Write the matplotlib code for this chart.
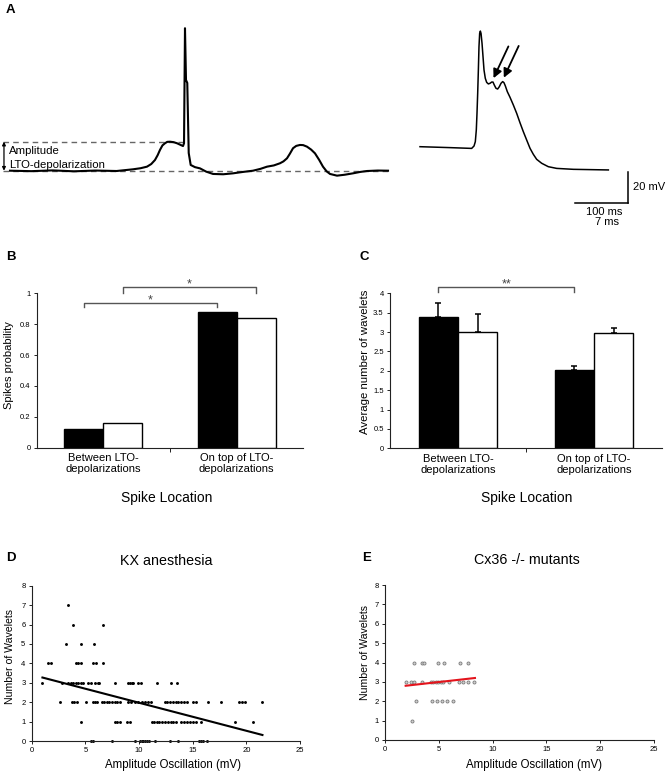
import matplotlib
matplotlib.use('Agg')
import matplotlib.pyplot as plt

plt.rcParams['font.family'] = ['Liberation Sans', 'DejaVu Sans']

W, H = 670, 774

# ---------------- Panel A: traces (time in ms, voltage in mV relative to baseline)
trace1_t = [0, 40, 80, 120, 160, 200, 230.8, 245, 257, 265, 272, 277, 281.4, 286, 290.8, 295,
            300.2, 307, 313.3, 319, 324.6, 326.5, 328.3, 330.2, 332.6,
            335.3, 339, 347, 356.5, 368, 380.9, 400, 418.4, 437, 455.9, 470, 482.2, 495, 506.6,
            513, 519.7, 525, 531, 537, 544.1, 550, 557.2, 565, 572.2, 580, 587.2, 594, 600.4,
            613.5, 628, 643.5, 657, 669.8, 690, 709.2]
trace1_v = [0, -0.3, 0.2, -0.4, 0.1, -0.2, 0.9, 1.6, 2.6, 4.3, 6.9, 10.0, 13.4, 16.3, 17.7, 18.6,
            18.7, 18.4, 17.7, 16.8, 15.9, 17.7, 91.9, 58.5, 56.6,
            11.4, 3.7, 2.3, 1.5, -0.6, -2.1, -2.3, -1.7, -0.8, 0, 1.2, 2.6, 3.4, 4.8,
            6.0, 8.0, 10.9, 14.5, 16.0, 16.6, 16.5, 15.5, 13.6, 11.2, 7.0, 2.6, -0.4, -2.1,
            -3.2, -2.6, -1.7, -0.8, -0.2, 0.1, 0]
lto_baseline = 0.0
lto_peak = 18.7

trace2_t = [0, 3.94, 6.78, 7.09, 7.26, 7.39, 7.48, 7.57, 7.66, 7.74, 7.83, 7.92, 8.01, 8.14,
            8.27, 8.40, 8.57, 8.75, 8.97, 9.19, 9.41, 9.58, 9.75, 9.97, 10.19, 10.41, 10.63,
            10.85, 11.02, 11.2, 11.46, 11.81, 12.25, 12.69, 13.12, 13.56, 14.0, 14.44, 14.87,
            15.31, 15.97, 16.84, 17.94, 20.12, 24.72]
trace2_v = [0, -0.6, -1.1, 0.45, 3.25, 10.8, 21.5, 34.4, 49.5, 64.5, 73.1, 74.6, 73.1, 66.7,
            58.1, 49.5, 44.1, 41.5, 40.5, 40.9, 41.7, 41.7, 39.8, 37.7, 37.2, 38.7, 40.9,
            42.0, 41.3, 39.2, 35.5, 31.9, 26.9, 21.5, 15.5, 9.7, 4.3, -1.05, -4.9,
            -8.15, -10.7, -12.9, -14.0, -14.6, -15.0]
wavelet_t = [9.5, 10.85]
wavelet_v = [41.7, 42.0]
scale_mv = 20
scale_ms = 7

# ---------------- Panels B and C
categories = ['Between LTO-\ndepolarizations', 'On top of LTO-\ndepolarizations']
spike_prob_black = [0.121, 0.881]
spike_prob_white = [0.162, 0.838]
wavelets_black = [3.40, 2.02]
wavelets_white = [3.01, 2.97]
wavelets_black_err = [0.34, 0.10]
wavelets_white_err = [0.45, 0.13]
b_ticks = [0, 0.2, 0.4, 0.6, 0.8, 1]
b_ticklabels = ['0', '0.2', '0.4', '0.6', '0.8', '1']
c_ticks = [0, 0.5, 1, 1.5, 2, 2.5, 3, 3.5, 4]
c_ticklabels = ['0', '0.5', '1', '1.5', '2', '2.5', '3', '3.5', '4']

# ---------------- Panel D (KX anesthesia)
d_levels = {
    7: [3.35],
    6: [3.88, 6.67],
    5: [3.17, 4.57, 5.83],
    4: [1.55, 1.77, 4.15, 4.35, 4.55, 5.74, 5.96, 6.67],
    3: [0.93, 2.85, 3.41, 3.63, 3.88, 4.1, 4.34, 4.6, 4.8, 5.28, 5.5, 5.9, 6.15, 6.3, 7.76,
        9.0, 9.15, 9.3, 9.45, 9.95, 10.2, 11.7, 12.95, 13.57],
    2: [2.64, 3.73, 3.94, 4.19, 5.06, 5.68, 5.9, 6.06, 6.52, 6.74, 6.99, 7.2, 7.46, 7.76,
        7.98, 8.23, 9.0, 9.25, 9.63, 9.94, 10.25, 10.56, 10.87, 11.12, 12.42, 12.65, 12.9,
        13.15, 13.4, 13.65, 13.9, 14.15, 14.45, 15.05, 15.35, 16.45, 17.65, 19.3, 19.6,
        19.9, 21.45],
    1: [4.57, 7.76, 7.98, 8.23, 8.85, 9.16, 11.18, 11.4, 11.65, 11.89, 12.12, 12.45, 12.73,
        12.95, 13.2, 13.42, 13.95, 14.2, 14.45, 14.75, 15.05, 15.35, 15.75, 18.95, 20.65],
    0: [5.55, 5.7, 7.45, 9.6, 10.1, 10.25, 10.4, 10.55, 10.7, 10.95, 11.5, 12.9, 13.6,
        15.6, 15.8, 16.0, 16.35],
}
d_x = [x for lvl, xs in d_levels.items() for x in xs]
d_y = [lvl for lvl, xs in d_levels.items() for x in xs]
d_fit_x = [1.0, 21.5]
d_fit_y = [3.27, 0.31]

# ---------------- Panel E (Cx36 -/- mutants)
e_levels = {
    4: [2.72, 3.41, 3.6, 4.96, 5.5, 7.0, 7.74],
    3: [1.92, 2.39, 2.72, 3.41, 4.27, 4.49, 4.71, 4.96, 5.2, 5.42, 5.95, 6.9, 7.28, 7.74, 8.3],
    2: [2.85, 4.34, 4.8, 5.27, 5.73, 6.29],
    1: [2.54],
}
e_x = [x for lvl, xs in e_levels.items() for x in xs]
e_y = [lvl for lvl, xs in e_levels.items() for x in xs]
e_fit_x = [1.92, 8.36]
e_fit_y = [2.8, 3.2]

scatter_xticks = [0, 5, 10, 15, 20, 25]
scatter_yticks = [0, 1, 2, 3, 4, 5, 6, 7, 8]

# =====================================================================
fig = plt.figure(figsize=(W / 100, H / 100), dpi=100)


def px_axes(x0, y0, x1, y1):
    return fig.add_axes([x0 / W, 1 - y1 / H, (x1 - x0) / W, (y1 - y0) / H])


def fxy(x, y):
    return (x / W, 1 - y / H)


SP = '#222222'

# ---- Panel A left trace
axA1 = px_axes(0, 20, 400, 190)
axA1.set_xlim(-18.76, 731.7)
axA1.set_ylim(-12.45, 97.2)
axA1.axis('off')
axA1.plot([-13, 713], [lto_baseline, lto_baseline], color='#666666', lw=1.0, ls=(0, (4, 3)))
axA1.plot([-13, 324.6], [lto_peak, lto_peak], color='#666666', lw=1.0, ls=(0, (4, 3)))
axA1.plot(trace1_t, trace1_v, color='k', lw=1.5, solid_joinstyle='round')
axA1.annotate('', xy=(-11.3, lto_baseline), xytext=(-11.3, lto_peak),
              arrowprops=dict(arrowstyle='<|-|>', color='k', lw=0.9, mutation_scale=5,
                              shrinkA=0, shrinkB=0))
axA1.text(-1.3, 12.9, 'Amplitude', fontsize=8.2, ha='left', va='center')
axA1.text(-1.3, 3.7, 'LTO-depolarization', fontsize=8.2, ha='left', va='center')

# ---- Panel A right trace
axA2 = px_axes(400, 20, 670, 250)
axA2.set_xlim(-2.625, 32.81)
axA2.set_ylim(-66.65, 81.74)
axA2.axis('off')
axA2.plot(trace2_t, trace2_v, color='k', lw=1.1, solid_joinstyle='round')
for wt, wv in zip(wavelet_t, wavelet_v):
    axA2.annotate('', xy=(wt + 0.15, wv + 2.5), xytext=(wt + 2.1, wv + 23.0),
                  arrowprops=dict(arrowstyle='-|>', color='k', lw=1.3, mutation_scale=13,
                                  shrinkA=0, shrinkB=0))
sb_x, sb_y = 27.34, -36.1
axA2.plot([sb_x, sb_x], [sb_y, sb_y + scale_mv], color='k', lw=1.1)
axA2.plot([sb_x - scale_ms, sb_x], [sb_y, sb_y], color='k', lw=1.1)
axA2.text(27.95, -25.8, '20 mV', fontsize=8, ha='left', va='center')
axA2.text(24.15, -41.9, '100 ms', fontsize=8, ha='center', va='center')
axA2.text(24.5, -48.4, '7 ms', fontsize=8, ha='center', va='center')


def style_bar_axes(ax):
    for s in ['top', 'right']:
        ax.spines[s].set_visible(False)
    for s in ['left', 'bottom']:
        ax.spines[s].set_color(SP)
        ax.spines[s].set_linewidth(0.8)
    ax.set_xlim(-0.5, 1.5)
    ax.set_xticks([0, 1])
    ax.set_xticklabels(categories, fontsize=8, linespacing=1.1)
    ax.tick_params(axis='x', which='major', length=0, pad=4)
    ax.set_xticks([0.5], minor=True)
    ax.tick_params(axis='x', which='minor', length=3, width=0.7, color=SP, direction='out')
    ax.tick_params(axis='y', length=2.5, width=0.7, color=SP, labelsize=5.5, pad=2)


bw = 0.293
xs = [0, 1]
br = '#555555'

# ---- Panel B
axB = px_axes(36.7, 293.3, 303.3, 447.7)
style_bar_axes(axB)
axB.bar([x - bw / 2 for x in xs], spike_prob_black, width=bw, color='k', edgecolor='k', lw=1)
axB.bar([x + bw / 2 for x in xs], spike_prob_white, width=bw, color='white', edgecolor='k', lw=1)
axB.set_ylim(0, 1)
axB.set_yticks(b_ticks)
axB.set_yticklabels(b_ticklabels)
for (xa, xb, yb, yt, ys) in [(-bw / 2, 1 - bw / 2, 0.94, 0.91, 0.955),
                             (bw / 2, 1 + bw / 2, 1.04, 1.005, 1.055)]:
    axB.plot([xa, xa, xb, xb], [yt, yb, yb, yt], color=br, lw=1.0, clip_on=False)
    axB.text((xa + xb) / 2, ys, '*', fontsize=9, color='#444444', ha='center', va='center',
             clip_on=False)
axB.set_ylabel('Spikes probability', fontsize=8)
axB.yaxis.set_label_coords(*fxy(8.3 + 6, 365), transform=fig.transFigure)
axB.set_xlabel('Spike Location', fontsize=10)
axB.xaxis.set_label_coords(*fxy(166.7, 498.3 - 7.5), transform=fig.transFigure)

# ---- Panel C
axC = px_axes(390, 293.3, 662, 448.3)
style_bar_axes(axC)
bwc = 0.29
axC.bar([x - bwc / 2 for x in xs], wavelets_black, width=bwc, color='k', edgecolor='k', lw=1,
        yerr=[[0, 0], wavelets_black_err], error_kw=dict(ecolor='k', elinewidth=1.1,
                                                         capsize=2, capthick=1.1))
axC.bar([x + bwc / 2 for x in xs], wavelets_white, width=bwc, color='white', edgecolor='k',
        lw=1, yerr=[[0, 0], wavelets_white_err],
        error_kw=dict(ecolor='k', elinewidth=1.1, capsize=2, capthick=1.1))
axC.set_ylim(0, 4)
axC.set_yticks(c_ticks)
axC.set_yticklabels(c_ticklabels)
xa, xb = -bwc / 2, 1 - bwc / 2
axC.plot([xa, xa, xb, xb], [4.03, 4.15, 4.15, 4.03], color=br, lw=1.0, clip_on=False)
axC.text((xa + xb) / 2, 4.24, '**', fontsize=9, color='#444444', ha='center', va='center',
         clip_on=False)
axC.set_ylabel('Average number of wavelets', fontsize=8.2)
axC.yaxis.set_label_coords(*fxy(364.3 + 6, 361.7), transform=fig.transFigure)
axC.set_xlabel('Spike Location', fontsize=10)
axC.xaxis.set_label_coords(*fxy(526.7, 498.3 - 7.5), transform=fig.transFigure)


def style_scatter_axes(ax):
    for s in ['top', 'right']:
        ax.spines[s].set_visible(False)
    for s in ['left', 'bottom']:
        ax.spines[s].set_color(SP)
        ax.spines[s].set_linewidth(0.8)
    ax.set_xlim(0, 25)
    ax.set_ylim(0, 8)
    ax.set_xticks(scatter_xticks)
    ax.set_yticks(scatter_yticks)
    ax.tick_params(length=2, width=0.7, color=SP, labelsize=5.5, pad=2.5)


# ---- Panel D
axD = px_axes(31.7, 585.7, 300, 741)
style_scatter_axes(axD)
axD.plot(d_x, d_y, 'o', color='k', ms=2.1, mew=0, ls='none', clip_on=False)
axD.plot(d_fit_x, d_fit_y, color='k', lw=1.5)
axD.set_title('KX anesthesia', fontsize=10.3, y=(741 - 564.5) / 155.3, pad=0)
axD.set_xlabel('Amplitude Oscillation (mV)', fontsize=8.3)
axD.xaxis.set_label_coords(*fxy(173.3, 765 - 6), transform=fig.transFigure)
axD.set_ylabel('Number of Wavelets', fontsize=7.6)
axD.yaxis.set_label_coords(*fxy(10 + 5.5, 656), transform=fig.transFigure)

# ---- Panel E
axE = px_axes(385, 585, 654, 740)
style_scatter_axes(axE)
axE.plot(e_x, e_y, 'o', ms=2.2, mfc='#cfcfcf', mec='#7a7a7a', mew=0.6, ls='none',
         clip_on=False)
axE.plot(e_fit_x, e_fit_y, color='#e3141c', lw=1.5)
axE.set_title('Cx36 -/- mutants', fontsize=10.3, y=(740 - 564.5) / 155, pad=0,
              x=(526.7 - 385) / 269)
axE.set_xlabel('Amplitude Oscillation (mV)', fontsize=8.3)
axE.xaxis.set_label_coords(*fxy(534, 765 - 6), transform=fig.transFigure)
axE.set_ylabel('Number of Wavelets', fontsize=7.6)
axE.yaxis.set_label_coords(*fxy(364.3 + 5.5, 652.7), transform=fig.transFigure)

# ---- Panel letters
for letter, (lx, ly) in {'A': (6, 10), 'B': (6, 257), 'C': (360, 257),
                         'D': (6, 558.3), 'E': (361.7, 558.3)}.items():
    fig.text(*fxy(lx, ly), letter, fontsize=9.5, fontweight='bold', ha='left', va='center')

fig.savefig('out.png', dpi=100)
